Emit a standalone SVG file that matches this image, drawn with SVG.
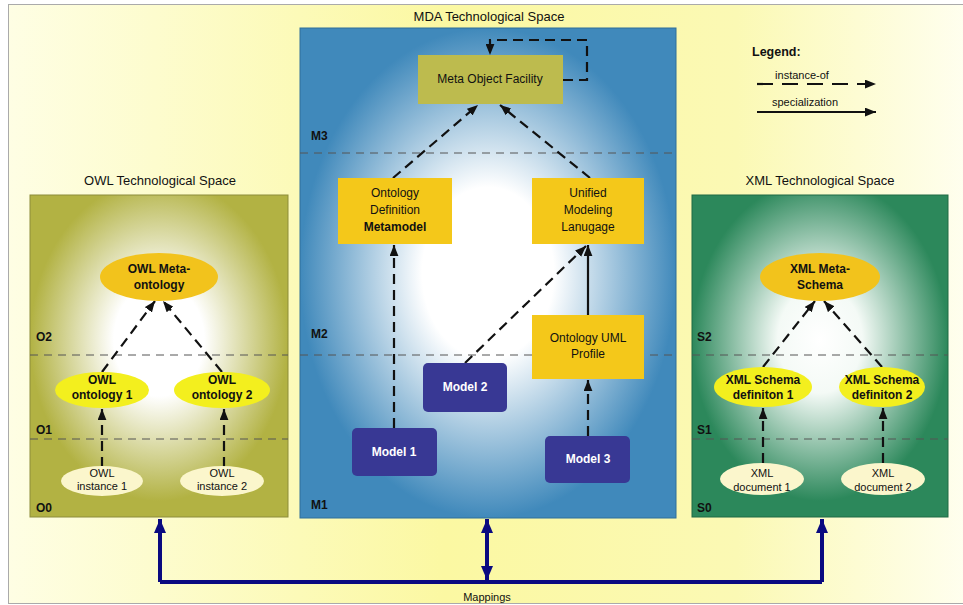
<svg xmlns="http://www.w3.org/2000/svg" width="963" height="605" viewBox="0 0 963 605">
<defs>
<linearGradient id="bg" x1="0" y1="0" x2="1" y2="0">
<stop offset="0" stop-color="#fefee4"/>
<stop offset="0.45" stop-color="#fbf8a2"/>
<stop offset="0.75" stop-color="#fbf9b4"/>
<stop offset="1" stop-color="#fffff2"/>
</linearGradient>
<radialGradient id="gOwl" cx="0.5" cy="0.45" r="0.5">
<stop offset="0" stop-color="#ffffff"/>
<stop offset="0.35" stop-color="#ffffff"/>
<stop offset="1" stop-color="#b2b243"/>
</radialGradient>
<radialGradient id="gMda" cx="0.5" cy="0.5" r="0.5">
<stop offset="0" stop-color="#ffffff"/>
<stop offset="0.35" stop-color="#ffffff"/>
<stop offset="1" stop-color="#4089bb"/>
</radialGradient>
<radialGradient id="gXml" cx="0.5" cy="0.45" r="0.5">
<stop offset="0" stop-color="#ffffff"/>
<stop offset="0.33" stop-color="#f4faf6"/>
<stop offset="1" stop-color="#2c885b"/>
</radialGradient>
<marker id="ah" viewBox="0 0 10 8" refX="10" refY="4" markerWidth="11" markerHeight="9" markerUnits="userSpaceOnUse" orient="auto">
<path d="M0,0 L10,4 L0,8 z" fill="#111"/>
</marker>
<marker id="nav" viewBox="0 0 14 12" refX="14" refY="6" markerWidth="14" markerHeight="12" markerUnits="userSpaceOnUse" orient="auto">
<path d="M0,0 L14,6 L0,12 z" fill="#0a0a80"/>
</marker>
<marker id="navS" viewBox="0 0 14 12" refX="0" refY="6" markerWidth="14" markerHeight="12" markerUnits="userSpaceOnUse" orient="auto">
<path d="M14,0 L0,6 L14,12 z" fill="#0a0a80"/>
</marker>
</defs>
<style>
text{font-family:"Liberation Sans",Arial,sans-serif;fill:#111;text-anchor:middle}
.ttl{font-size:13px}
.nt{font-size:12px}
.bt{font-size:12px;font-weight:bold}
.st{font-size:11px}
.wt{font-size:12px;font-weight:bold;fill:#fff}
.lvl{font-size:12px;font-weight:bold;text-anchor:start}
.lvline{stroke:#555;stroke-width:1;stroke-dasharray:8 6;fill:none}
.dash{stroke:#111;stroke-width:2.2;stroke-dasharray:10 6;fill:none;marker-end:url(#ah)}
.solid{stroke:#111;stroke-width:2.2;fill:none;marker-end:url(#ah)}
.map{stroke:#0a0a80;stroke-width:4;fill:none}
.box{fill:#f4c81a}
.model{fill:#383894}
</style>

<rect x="8.5" y="4.5" width="970" height="599" fill="url(#bg)" stroke="#aaa" stroke-width="1"/>

<g id="owl-space">
<rect x="30" y="195" width="258" height="322" fill="url(#gOwl)" stroke="#8c8c3a" stroke-width="1"/>
<text class="ttl" x="160" y="185">OWL Technological Space</text>
<line class="lvline" x1="30" y1="355" x2="288" y2="355"/>
<line class="lvline" x1="30" y1="439" x2="288" y2="439"/>
<text class="lvl" x="36" y="341">O2</text>
<text class="lvl" x="36" y="434">O1</text>
<text class="lvl" x="36" y="512">O0</text>
</g>

<g id="mda-space">
<rect x="300" y="28" width="376" height="490" fill="url(#gMda)" stroke="#2f6f9a" stroke-width="1"/>
<text class="ttl" x="489" y="21">MDA Technological Space</text>
<line class="lvline" x1="300" y1="153" x2="676" y2="153"/>
<line class="lvline" x1="300" y1="355" x2="676" y2="355"/>
<text class="lvl" x="311" y="140">M3</text>
<text class="lvl" x="311" y="338">M2</text>
<text class="lvl" x="311" y="509">M1</text>
</g>

<g id="xml-space">
<rect x="692" y="195" width="256" height="322" fill="url(#gXml)" stroke="#1f6a45" stroke-width="1"/>
<text class="ttl" x="820" y="185">XML Technological Space</text>
<line class="lvline" x1="692" y1="355" x2="948" y2="355"/>
<line class="lvline" x1="692" y1="439" x2="948" y2="439"/>
<text class="lvl" x="697" y="341">S2</text>
<text class="lvl" x="697" y="434">S1</text>
<text class="lvl" x="697" y="512">S0</text>
</g>

<g id="connectors">
<path class="dash" d="M563,80 H587 V40 H490 V55"/>
<line class="dash" x1="393" y1="178" x2="478" y2="105"/>
<line class="dash" x1="590" y1="178" x2="500" y2="105"/>
<line class="dash" x1="394" y1="428" x2="394" y2="245"/>
<line class="dash" x1="465" y1="363" x2="586" y2="246"/>
<line class="solid" x1="588" y1="315" x2="588" y2="245"/>
<line class="dash" x1="588" y1="436" x2="588" y2="380"/>
<line class="dash" x1="102" y1="372" x2="155" y2="301"/>
<line class="dash" x1="222" y1="372" x2="163" y2="301"/>
<line class="dash" x1="102" y1="467" x2="102" y2="409"/>
<line class="dash" x1="224" y1="467" x2="224" y2="409"/>
<line class="dash" x1="763" y1="367" x2="815" y2="301"/>
<line class="dash" x1="882" y1="367" x2="824" y2="301"/>
<line class="dash" x1="763" y1="463" x2="763" y2="408"/>
<line class="dash" x1="883" y1="463" x2="883" y2="408"/>
<path class="map" d="M160,582 H822"/>
<line class="map" x1="160" y1="582" x2="160" y2="519" marker-end="url(#nav)"/>
<line class="map" x1="822" y1="582" x2="822" y2="519" marker-end="url(#nav)"/>
<line class="map" x1="487" y1="519" x2="487" y2="580" marker-start="url(#navS)" marker-end="url(#nav)"/>
</g>

<g id="mof">
<rect x="418" y="55" width="145" height="49" fill="#bdbb4e"/>
<text class="nt" x="490" y="83">Meta Object Facility</text>
</g>
<g id="odm">
<rect class="box" x="338" y="178" width="114" height="66"/>
<text class="nt" x="395" y="197">Ontology</text>
<text class="nt" x="395" y="214">Definition</text>
<text class="bt" x="395" y="231">Metamodel</text>
</g>
<g id="uml">
<rect class="box" x="532" y="178" width="112" height="66"/>
<text class="nt" x="588" y="197">Unified</text>
<text class="nt" x="588" y="214">Modeling</text>
<text class="nt" x="588" y="231">Lanugage</text>
</g>
<g id="profile">
<rect class="box" x="532" y="315" width="112" height="64"/>
<text class="nt" x="588" y="342">Ontology UML</text>
<text class="nt" x="588" y="358">Profile</text>
</g>
<g id="model1">
<rect class="model" x="352" y="428" width="85" height="48" rx="5"/>
<text class="wt" x="394" y="456">Model 1</text>
</g>
<g id="model2">
<rect class="model" x="423" y="363" width="84" height="49" rx="5"/>
<text class="wt" x="465" y="391">Model 2</text>
</g>
<g id="model3">
<rect class="model" x="545" y="436" width="85" height="47" rx="5"/>
<text class="wt" x="588" y="463">Model 3</text>
</g>

<g id="owl-meta">
<ellipse cx="159" cy="277" rx="59" ry="24" fill="#f2c31c"/>
<text class="bt" x="159" y="273">OWL Meta-</text>
<text class="bt" x="159" y="289">ontology</text>
</g>
<g id="owl-ont1">
<ellipse cx="102" cy="390" rx="47" ry="18" fill="#f3ef1e"/>
<text class="bt" x="102" y="384">OWL</text>
<text class="bt" x="102" y="399">ontology 1</text>
</g>
<g id="owl-ont2">
<ellipse cx="222" cy="390" rx="48" ry="18" fill="#f3ef1e"/>
<text class="bt" x="222" y="384">OWL</text>
<text class="bt" x="222" y="399">ontology 2</text>
</g>
<g id="owl-inst1">
<ellipse cx="102" cy="481" rx="41" ry="15" fill="#fbf6cc"/>
<text class="st" x="102" y="477">OWL</text>
<text class="st" x="102" y="490">instance 1</text>
</g>
<g id="owl-inst2">
<ellipse cx="222" cy="481" rx="42" ry="15" fill="#fbf6cc"/>
<text class="st" x="222" y="477">OWL</text>
<text class="st" x="222" y="490">instance 2</text>
</g>

<g id="xml-meta">
<ellipse cx="820" cy="277" rx="60" ry="24" fill="#f2c31c"/>
<text class="bt" x="820" y="273">XML Meta-</text>
<text class="bt" x="820" y="289">Schema</text>
</g>
<g id="xml-def1">
<ellipse cx="763" cy="387" rx="49" ry="20" fill="#f3ef1e"/>
<text class="bt" x="763" y="384">XML Schema</text>
<text class="bt" x="763" y="399">definiton 1</text>
</g>
<g id="xml-def2">
<ellipse cx="882" cy="387" rx="43" ry="20" fill="#f3ef1e"/>
<text class="bt" x="882" y="384">XML Schema</text>
<text class="bt" x="882" y="399">definiton 2</text>
</g>
<g id="xml-doc1">
<ellipse cx="762" cy="479" rx="42" ry="16" fill="#fbf6cc"/>
<text class="st" x="762" y="477">XML</text>
<text class="st" x="762" y="491">document 1</text>
</g>
<g id="xml-doc2">
<ellipse cx="883" cy="479" rx="42" ry="16" fill="#fbf6cc"/>
<text class="st" x="883" y="477">XML</text>
<text class="st" x="883" y="491">document 2</text>
</g>

<g id="legend">
<text x="752" y="56" style="font-size:12.5px;font-weight:bold;text-anchor:start">Legend:</text>
<text class="st" x="802" y="79">instance-of</text>
<line x1="757" y1="84" x2="876" y2="84" stroke="#111" stroke-width="2.2" stroke-dasharray="16 9" marker-end="url(#ah)"/>
<text class="st" x="805" y="106">specialization</text>
<line x1="757" y1="112" x2="876" y2="112" stroke="#111" stroke-width="2" marker-end="url(#ah)"/>
</g>

<g id="mappings">
<text class="st" x="487" y="601">Mappings</text>
</g>
</svg>
